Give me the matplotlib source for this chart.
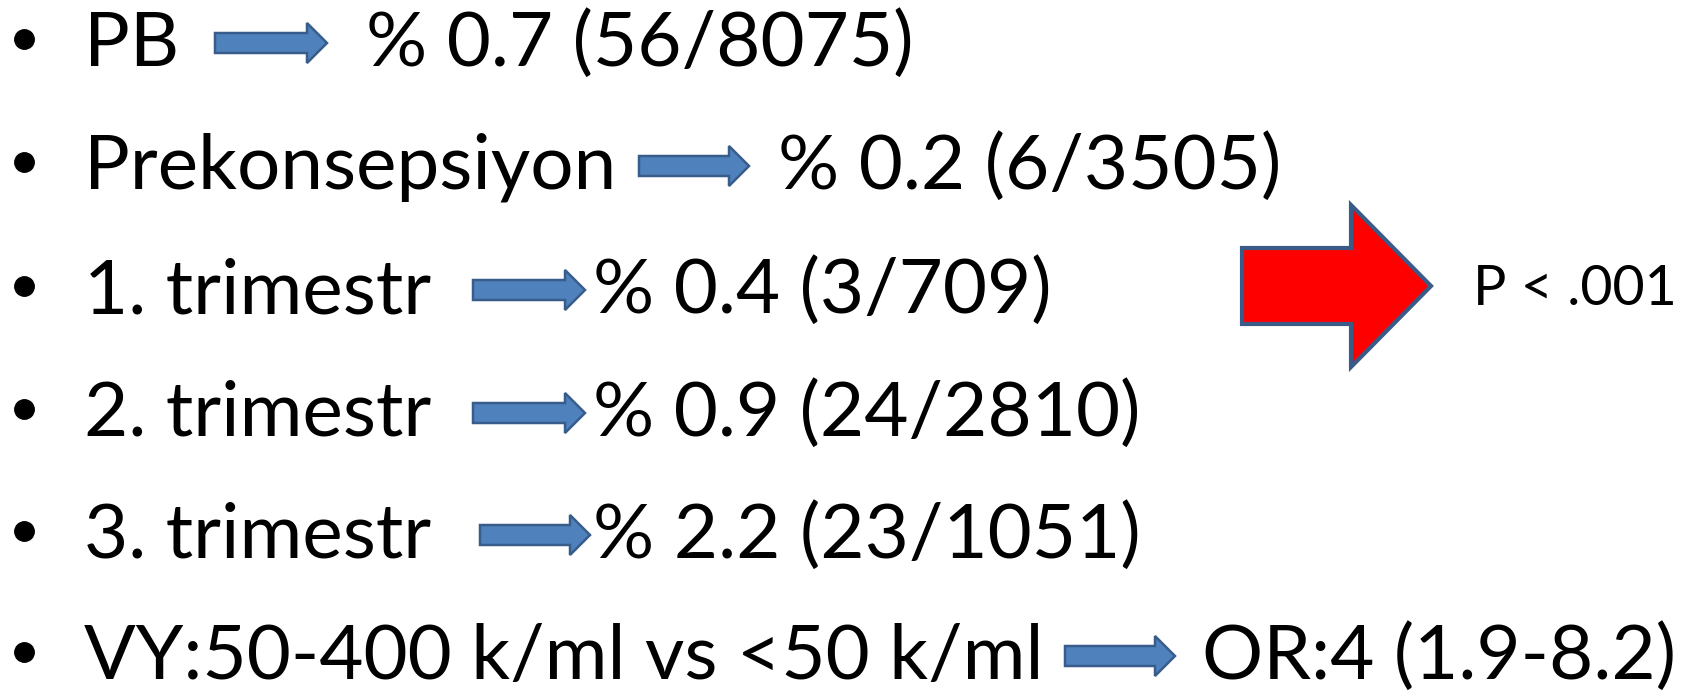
import matplotlib
matplotlib.use("Agg")
import matplotlib.pyplot as plt
from matplotlib.patches import Polygon

# slide content
labels = ["PB", "Prekonsepsiyon", "1. trimestr", "2. trimestr", "3. trimestr",
          "VY:50-400 k/ml vs <50 k/ml"]
pct = [0.7, 0.2, 0.4, 0.9, 2.2]
cases = [56, 6, 3, 24, 23]
totals = [8075, 3505, 709, 2810, 1051]
odds = "OR:4 (1.9-8.2)"
p_text = "P < .001"

results = ["% {} ({}/{})".format(p, c, t) for p, c, t in zip(pct, cases, totals)]
results.append(odds)

# layout in pixels (y down)
baselines = [66, 189, 313, 436, 558, 679]
arrow_x = [(215, 327), (639, 749), (473, 585), (473, 585), (480, 590), (1065, 1175)]
result_x = [366, 778, 593, 593, 593, 1202]

plt.rcParams['font.family'] = ['Lato', 'DejaVu Sans']

fig = plt.figure(figsize=(16.98, 6.92), dpi=100)
ax = fig.add_axes([0, 0, 1, 1])
ax.set_xlim(0, 1698)
ax.set_ylim(692, 0)
ax.axis('off')


def block_arrow(ax, x0, x1, yc, shaft, head, head_len, fc, ec, lw):
    xh = x1 - head_len
    pts = [(x0, yc - shaft), (xh, yc - shaft), (xh, yc - head), (x1, yc),
           (xh, yc + head), (xh, yc + shaft), (x0, yc + shaft)]
    ax.add_patch(Polygon(pts, closed=True, facecolor=fc, edgecolor=ec,
                         linewidth=lw, joinstyle='miter'))


fs = 55
# bullets
ax.plot([24] * len(baselines), [b - 27 for b in baselines], 'o', color='black',
        markersize=14, linestyle='none')
for i in range(len(labels)):
    y = baselines[i]
    ax.text(84, y, labels[i], fontsize=fs, ha='left', va='baseline', color='black')
    x0, x1 = arrow_x[i]
    block_arrow(ax, x0, x1, y - 23, 10, 20, 20, '#4F81BD', '#385D8A', 1.8)
    ax.text(result_x[i], y, results[i], fontsize=fs, ha='left', va='baseline', color='black')

# big red arrow pointing to p value
block_arrow(ax, 1242, 1431, 286, 38, 81, 80, '#FF0000', '#3A5A88', 3)
ax.text(1473, 305, p_text, fontsize=40, ha='left', va='baseline', color='black')

fig.savefig("out.png", dpi=100, facecolor='white')
